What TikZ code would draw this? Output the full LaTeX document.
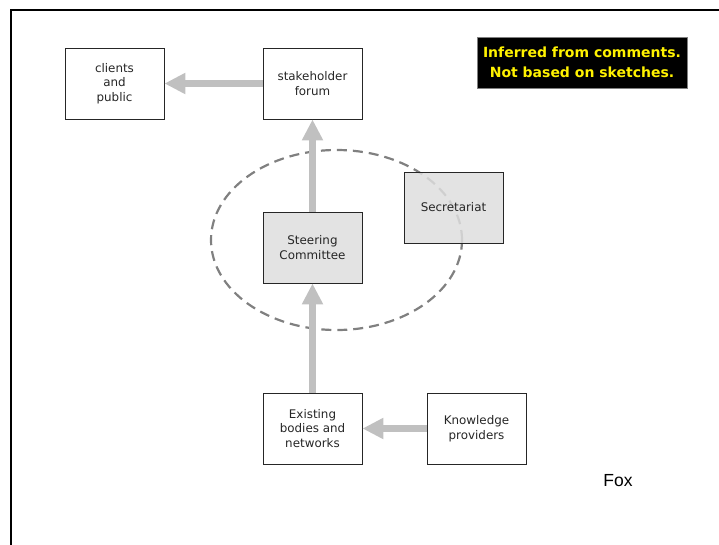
\documentclass[tikz,border=0pt]{standalone}
\usepackage{fontspec}
\setmainfont{DejaVu Sans}
\newfontfamily\foxfont{Liberation Sans}
\usepackage{xcolor}
\usepackage{tikz}
\usetikzlibrary{arrows.meta}

\definecolor{arrowgray}{HTML}{C0C0C0}
\definecolor{ringgray}{HTML}{808080}
\definecolor{shadegray}{HTML}{DEDEDE}

\tikzset{
    box/.style={shape=rectangle,draw=black!85,line width=0.9pt,minimum width=99pt,minimum height=71pt,
        inner sep=0pt,align=center,font=\fontsize{11.9}{14.5}\selectfont,text=black!85},
    shaded/.style={box,fill=shadegray,fill opacity=0.85,text opacity=1},
    flow/.style={draw=arrowgray,line width=7pt,-{Triangle[width=20pt,length=21pt,fill=arrowgray]}}
}

\begin{document}
\begin{tikzpicture}[x=1pt,y=-1pt]
    \useasboundingbox (0,0) rectangle (719,544);
    \draw [line width=2pt] (10.5,546) -- (10.5,10) -- (721,10);
    \draw [dash pattern=on 10pt off 6pt,draw=ringgray,line width=2.2pt] (336.5,240) ellipse [x radius=125.5pt, y radius=90pt];
    \node[box] (clients) at (114.5,83.5) {clients\\and\\public};
    \node[box] (forum) at (312.5,83.5) {stakeholder\\forum};
    \node[shaded] (steering) at (312.5,247.5) {Steering\\Committee};
    \node[shaded] (secretariat) at (453.5,207.5) {Secretariat};
    \node[box] (existing) at (312.5,428.5) {Existing\\bodies and\\networks};
    \node[box] (knowledge) at (476.5,428.5) {Knowledge\\providers};
    \node[fill=black,draw=gray,minimum width=210pt,minimum height=51pt,inner sep=0pt,align=center,
        text=yellow,font=\bfseries\fontsize{14}{20}\selectfont] (note) at (582,62.5) {Inferred from comments.\\Not based on sketches.};
    \node[font=\foxfont\fontsize{17.5}{18}\selectfont] (fox) at (618,481) {Fox};
    \draw[flow] (forum) -- (clients);
    \draw[flow] (steering) -- (forum);
    \draw[flow] (existing) -- (steering);
    \draw[flow] (knowledge) -- (existing);
\end{tikzpicture}
\end{document}
